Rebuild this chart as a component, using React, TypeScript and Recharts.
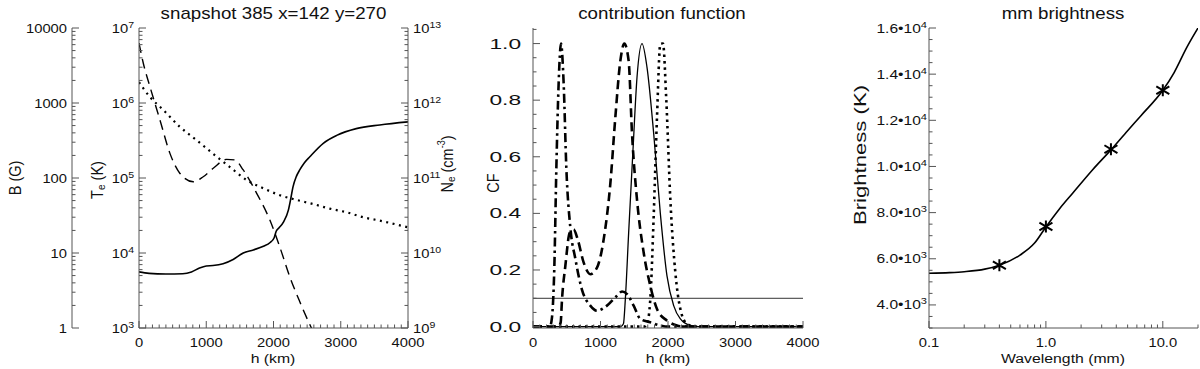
import React from "react";
import { LineChart, ComposedChart, Line, XAxis, YAxis, ReferenceLine } from "recharts";

const FONT = '"Liberation Sans", Arial, Helvetica, sans-serif';
const SX = 1.17; // the reference text is stretched sideways
const AXIS = "#555";

// ---- panel 1: snapshot 385 (h in km) ----
const teH = [0, 150, 400, 650, 780, 900, 1000, 1100, 1250, 1400, 1550, 1700, 1850, 1950, 2010, 2040, 2080, 2150, 2220, 2260, 2290, 2340, 2390, 2460, 2540, 2740, 2940, 3230, 3580, 4000];
const teK = [5600, 5350, 5250, 5300, 5600, 6300, 6700, 6800, 7200, 8200, 10000, 11000, 12300, 13800, 16000, 19500, 21500, 26000, 37000, 55000, 76000, 105000, 128000, 160000, 192000, 290000, 370000, 455000, 510000, 560000];

const bH = [0, 64, 163, 312, 460, 609, 807, 955, 1104, 1302, 1426, 1550, 1748, 1946, 2094, 2243, 2391, 2564, 2650];
const bG = [6300, 3390, 1650, 593, 213, 115, 89, 104, 135, 177, 174, 128, 63, 27.5, 12, 4.8, 2.24, 1.0, 0.7];

const neH = [0, 163, 361, 609, 856, 1104, 1351, 1599, 1847, 2094, 2342, 2589, 2837, 3084, 3332, 3579, 4000];
const neCm = [1.9e12, 1.2e12, 8.1e11, 4.8e11, 3.2e11, 2.1e11, 1.4e11, 9.4e10, 7.3e10, 5.9e10, 5.1e10, 4.5e10, 3.9e10, 3.5e10, 3.0e10, 2.7e10, 2.2e10];

// ---- panel 2: contribution function ----
const cfSolidH = [0, 1300, 1340, 1368, 1417, 1481, 1541, 1615, 1689, 1788, 1886, 1985, 2084, 2183, 2331, 2450, 4000];
const cfSolid = [0, 0, 0.01, 0.097, 0.331, 0.623, 0.881, 1.0, 0.916, 0.682, 0.401, 0.179, 0.074, 0.027, 0.004, 0, 0];

const cfDashH = [0, 380, 410, 430, 479, 543, 602, 662, 751, 849, 948, 1047, 1146, 1220, 1294, 1353, 1417, 1467, 1541, 1640, 1738, 1837, 1985, 2133, 2250, 4000];
const cfDash = [0, 0, 0.015, 0.097, 0.214, 0.331, 0.343, 0.308, 0.226, 0.185, 0.208, 0.308, 0.506, 0.74, 0.939, 1.0, 0.939, 0.682, 0.448, 0.261, 0.144, 0.062, 0.021, 0.004, 0, 0];

const cfDashDotH = [0, 250, 280, 316, 346, 380, 415, 454, 494, 553, 627, 726, 849, 948, 1096, 1244, 1319, 1393, 1491, 1590, 1738, 1886, 2000, 4000];
const cfDashDot = [0, 0, 0.03, 0.21, 0.56, 0.86, 1.0, 0.86, 0.56, 0.35, 0.24, 0.13, 0.074, 0.056, 0.074, 0.109, 0.124, 0.115, 0.074, 0.027, 0.015, 0.004, 0, 0];

const cfDotH = [0, 1650, 1689, 1738, 1788, 1837, 1886, 1926, 1975, 2035, 2109, 2183, 2281, 2400, 4000];
const cfDot = [0, 0, 0.009, 0.097, 0.39, 0.74, 0.998, 1.0, 0.799, 0.448, 0.191, 0.062, 0.009, 0, 0];

const cfLevel = 0.1;

// ---- panel 3: mm brightness ----
const wlMm = [0.1, 0.15, 0.2, 0.3, 0.4, 0.6, 0.8, 1.0, 1.3, 1.7, 2.5, 3.6, 5, 6.5, 10, 12.5, 16, 20];
const brightK = [5370, 5400, 5440, 5550, 5720, 6160, 6680, 7380, 8150, 8850, 9850, 10720, 11550, 12200, 13300, 14070, 15150, 16000];
const starMm = [0.4, 1.0, 3.6, 10];
const starK = [5720, 7400, 10750, 13300];

// ---- ticks ----
const range = (a: number, b: number, s: number) => {
  const out: number[] = [];
  for (let v = a; v <= b + 1e-9; v += s) out.push(+v.toFixed(6));
  return out;
};
const logTicks = (lo: number, hi: number) => {
  const out: number[] = [];
  for (let d = lo; d < hi * 0.999; d *= 10) for (let m = 1; m < 10; m++) out.push(+(m * d).toPrecision(6));
  out.push(hi);
  return out;
};

const hMajor = [0, 1000, 2000, 3000, 4000];
const hTicks = range(0, 4000, 100);
const teMajor = [1e3, 1e4, 1e5, 1e6, 1e7];
const bMajor = [1, 10, 100, 1000, 10000];
const neMajor = [1e9, 1e10, 1e11, 1e12, 1e13];
const cfMajor = [0, 0.2, 0.4, 0.6, 0.8, 1.0];
const cfTicks = range(0, 1.05, 0.05);
const wlMajor = [0.1, 1, 10];
const wlTicks = [...logTicks(0.1, 10), 20];
const brMajor = [4000, 6000, 8000, 10000, 12000, 14000, 16000];
const brTicks = range(3000, 16000, 500);

const rows = (xs: number[], ys: number[], xk = "h", yk = "v") => xs.map((x, i) => ({ [xk]: x, [yk]: ys[i] }));

function WText(props: {
  x: number; y: number; size: number; anchor?: "start" | "middle" | "end";
  rotate?: boolean; length?: number; children: React.ReactNode;
}) {
  const { x, y, size, anchor = "middle", rotate, length, children } = props;
  const t = `translate(${x},${y}) scale(${SX},1)` + (rotate ? " rotate(-90)" : "");
  return (
    <text
      transform={t}
      textAnchor={anchor}
      fontSize={size}
      fontFamily={FONT}
      fill="#111"
      dominantBaseline={rotate ? "central" : undefined}
      textLength={length}
      lengthAdjust={length ? "spacingAndGlyphs" : undefined}
    >
      {children}
    </text>
  );
}

type Side = "left" | "right" | "top" | "bottom";
type TickOpts = { label?: (v: number) => React.ReactNode; gap?: number; size?: number; length?: number; dy?: number };

function tickRenderer(side: Side, majors: number[], o: TickOpts = {}) {
  const { label, gap = 5, size = 12.6, length, dy = 4.5 } = o;
  return (p: any) => {
    const v = Number(p.payload?.value);
    const x = Number(p.x);
    const y = Number(p.y);
    const isMajor = majors.some((m) => Math.abs(m - v) <= Math.abs(m) * 1e-6);
    const len = isMajor ? 7 : 3.5;
    let x2 = x;
    let y2 = y;
    if (side === "left") x2 = x + len;
    else if (side === "right") x2 = x - len;
    else if (side === "bottom") y2 = y - len;
    else y2 = y + len;
    let txt: React.ReactNode = null;
    if (label && isMajor) {
      if (side === "left") txt = <WText x={x - gap} y={y + dy} anchor="end" size={size} length={length}>{label(v)}</WText>;
      else if (side === "right") txt = <WText x={x + gap} y={y + dy} anchor="start" size={size}>{label(v)}</WText>;
      else if (side === "bottom") txt = <WText x={x} y={y + 19} size={size}>{label(v)}</WText>;
    }
    return (
      <g>
        <line x1={x} y1={y} x2={x2} y2={y2} stroke={AXIS} strokeWidth={1} />
        {txt}
      </g>
    );
  };
}

const pow10 = (v: number) => (
  <>
    <tspan>10</tspan>
    <tspan dy={-5} fontSize={9}>{Math.round(Math.log10(v))}</tspan>
  </>
);
const plain = (v: number) => String(v);
const oneDec = (v: number) => v.toFixed(1);
const wlLabel = (v: number) => (v < 1 ? String(v) : v.toFixed(1));
const brLabel = (v: number) => {
  const e = v >= 10000 ? 4 : 3;
  return (
    <>
      <tspan>{(v / 10 ** e).toFixed(1)}•10</tspan>
      <tspan dy={-5} fontSize={9.5}>{e}</tspan>
    </>
  );
};

const axisProps = {
  tickSize: 0,
  tickMargin: 0,
  tickLine: false,
  interval: 0 as const,
  allowDataOverflow: true,
  axisLine: { stroke: AXIS, strokeWidth: 1 },
};

function SnapshotPanel() {
  // left axes: the id that sorts first sits next to the plot
  return (
    <LineChart width={470} height={369} margin={{ top: 28, right: 0, bottom: 0, left: 0 }}>
      <XAxis xAxisId="bottom" type="number" dataKey="h" domain={[0, 4000]} ticks={hTicks} height={41} tick={tickRenderer("bottom", hMajor, { label: plain })} {...axisProps} />
      <XAxis xAxisId="top" orientation="top" type="number" dataKey="h" domain={[0, 4000]} ticks={hTicks} height={0} tick={tickRenderer("top", hMajor)} {...axisProps} />
      <YAxis yAxisId="a_te" type="number" scale="log" domain={[1e3, 1e7]} ticks={logTicks(1e3, 1e7)} width={67} tick={tickRenderer("left", teMajor, { label: pow10 })} {...axisProps} />
      <YAxis yAxisId="b_field" type="number" scale="log" domain={[1, 1e4]} ticks={logTicks(1, 1e4)} width={72} tick={tickRenderer("left", bMajor, { label: plain })} {...axisProps} />
      <YAxis yAxisId="ne" orientation="right" type="number" scale="log" domain={[1e9, 1e13]} ticks={logTicks(1e9, 1e13)} width={62} tick={tickRenderer("right", neMajor, { label: pow10 })} {...axisProps} />
      <Line xAxisId="bottom" yAxisId="a_te" data={rows(teH, teK)} dataKey="v" type="monotone" stroke="#000" strokeWidth={1.6} dot={false} isAnimationActive={false} />
      <Line xAxisId="bottom" yAxisId="b_field" data={rows(bH, bG)} dataKey="v" type="monotone" stroke="#000" strokeWidth={1.4} strokeDasharray="10 6" dot={false} isAnimationActive={false} />
      <Line xAxisId="bottom" yAxisId="ne" data={rows(neH, neCm)} dataKey="v" type="monotone" stroke="#000" strokeWidth={2.2} strokeDasharray="2 4.5" dot={false} isAnimationActive={false} />
    </LineChart>
  );
}

function ContributionPanel() {
  return (
    <LineChart width={380} height={369} margin={{ top: 28, right: 47, bottom: 0, left: 0 }}>
      <XAxis xAxisId="bottom" type="number" dataKey="h" domain={[0, 4000]} ticks={hTicks} height={41} tick={tickRenderer("bottom", hMajor, { label: plain })} {...axisProps} />
      <XAxis xAxisId="top" orientation="top" type="number" dataKey="h" domain={[0, 4000]} ticks={hTicks} height={0} tick={tickRenderer("top", hMajor)} {...axisProps} />
      <YAxis yAxisId="cf" type="number" domain={[-0.005, 1.055]} ticks={cfTicks} width={63} tick={tickRenderer("left", cfMajor, { label: oneDec, gap: 12, size: 14, length: 27, dy: 5 })} {...axisProps} />
      <YAxis yAxisId="cfr" orientation="right" type="number" domain={[-0.005, 1.055]} ticks={cfTicks} width={0} tick={tickRenderer("right", cfMajor)} {...axisProps} />
      <ReferenceLine xAxisId="bottom" yAxisId="cf" y={cfLevel} stroke="#333" strokeWidth={1} />
      <Line xAxisId="bottom" yAxisId="cf" data={rows(cfDashDotH, cfDashDot)} dataKey="v" type="monotone" stroke="#000" strokeWidth={2.6} strokeDasharray="9 4 2.5 4" dot={false} isAnimationActive={false} />
      <Line xAxisId="bottom" yAxisId="cf" data={rows(cfDashH, cfDash)} dataKey="v" type="monotone" stroke="#000" strokeWidth={2.6} strokeDasharray="9 5" dot={false} isAnimationActive={false} />
      <Line xAxisId="bottom" yAxisId="cf" data={rows(cfSolidH, cfSolid)} dataKey="v" type="monotone" stroke="#000" strokeWidth={1.3} dot={false} isAnimationActive={false} />
      <Line xAxisId="bottom" yAxisId="cf" data={rows(cfDotH, cfDot)} dataKey="v" type="monotone" stroke="#000" strokeWidth={2.6} strokeDasharray="2.5 4" dot={false} isAnimationActive={false} />
    </LineChart>
  );
}

const renderStar = (p: any) => {
  const { cx, cy, index } = p;
  if (cx == null || cy == null) return <g key={`s${index}`} />;
  const w = 6.5;
  const h = 6;
  return (
    <path
      key={`s${index}`}
      d={`M${cx},${cy - h}L${cx},${cy + h}M${cx - w},${cy - h * 0.65}L${cx + w},${cy + h * 0.65}M${cx - w},${cy + h * 0.65}L${cx + w},${cy - h * 0.65}`}
      stroke="#000"
      strokeWidth={2}
      fill="none"
    />
  );
};

function BrightnessPanel() {
  return (
    <ComposedChart width={350} height={369} margin={{ top: 28, right: 2, bottom: 0, left: 0 }}>
      <XAxis xAxisId="bottom" type="number" scale="log" dataKey="wl" domain={[0.1, 20]} ticks={wlTicks} height={41} tick={tickRenderer("bottom", wlMajor, { label: wlLabel })} {...axisProps} />
      <XAxis xAxisId="top" orientation="top" type="number" scale="log" dataKey="wl" domain={[0.1, 20]} ticks={wlTicks} height={0} tick={tickRenderer("top", wlMajor)} {...axisProps} />
      <YAxis yAxisId="t" type="number" domain={[3000, 16000]} ticks={brTicks} width={79} tick={tickRenderer("left", brMajor, { label: brLabel, gap: 2, size: 13.3 })} {...axisProps} />
      <YAxis yAxisId="tr" orientation="right" type="number" domain={[3000, 16000]} ticks={brTicks} width={0} tick={tickRenderer("right", brMajor)} {...axisProps} />
      <Line xAxisId="bottom" yAxisId="t" data={rows(wlMm, brightK, "wl", "t")} dataKey="t" type="monotone" stroke="#000" strokeWidth={1.6} dot={false} isAnimationActive={false} />
      <Line xAxisId="bottom" yAxisId="t" data={rows(starMm, starK, "wl", "t")} dataKey="t" stroke="none" dot={renderStar} activeDot={false} isAnimationActive={false} />
    </ComposedChart>
  );
}

function Labels() {
  return (
    <svg width={1200} height={369} style={{ position: "absolute", left: 0, top: 0, pointerEvents: "none" }}>
      <WText x={273.5} y={19} size={16}>snapshot 385 x=142 y=270</WText>
      <WText x={662} y={19} size={16}>contribution function</WText>
      <WText x={1063} y={19} size={16}>mm brightness</WText>
      <WText x={273} y={363} size={13.5}>h (km)</WText>
      <WText x={668} y={363} size={13.5}>h (km)</WText>
      <WText x={1063} y={363} size={13.5}>Wavelength (mm)</WText>
      <WText x={15} y={178} size={14.5} rotate>B (G)</WText>
      <WText x={97} y={180} size={14.5} rotate>
        <tspan>T</tspan>
        <tspan dy={3} fontSize={10}>e</tspan>
        <tspan dy={-3}> (K)</tspan>
      </WText>
      <WText x={447} y={164} size={14.5} rotate>
        <tspan>N</tspan>
        <tspan dy={3} fontSize={10}>e</tspan>
        <tspan dy={-3}> (cm</tspan>
        <tspan dy={-5} fontSize={9}>-3</tspan>
        <tspan dy={5}>)</tspan>
      </WText>
      <WText x={493} y={183} size={14.5} rotate>CF</WText>
      <WText x={860} y={155} size={14} rotate length={140}>Brightness (K)</WText>
    </svg>
  );
}

export default function App() {
  return (
    <div style={{ position: "absolute", left: 0, top: 0, width: 1200, height: 369, background: "#fff", overflow: "hidden" }}>
      <div style={{ position: "absolute", left: 0, top: 0 }}>
        <SnapshotPanel />
      </div>
      <div style={{ position: "absolute", left: 470, top: 0 }}>
        <ContributionPanel />
      </div>
      <div style={{ position: "absolute", left: 850, top: 0 }}>
        <BrightnessPanel />
      </div>
      <Labels />
    </div>
  );
}
